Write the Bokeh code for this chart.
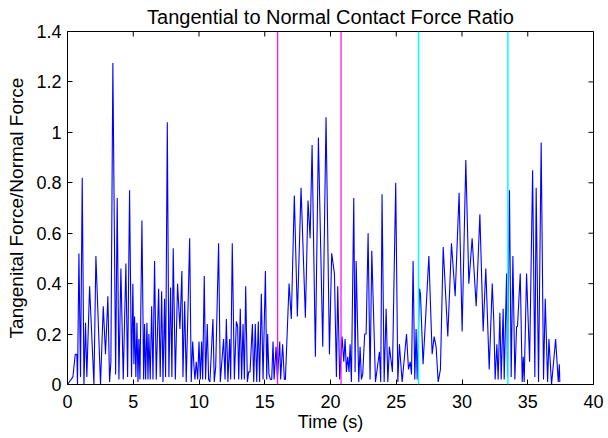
import math
from bokeh.plotting import figure
from bokeh.models import Range1d, Span, FixedTicker
from bokeh.embed import file_html
from bokeh.resources import INLINE

# ---- data ----
time_s = [
    0.00, 0.41, 0.59, 0.71, 0.76, 0.87, 0.99, 1.12, 1.25, 1.37, 1.47, 1.68, 2.01, 2.16, 2.51, 2.72,
    2.89, 3.07, 3.20, 3.30, 3.45, 3.66, 3.78, 3.91, 4.06, 4.24, 4.44, 4.57, 4.72, 4.87, 4.97, 5.05,
    5.10, 5.20, 5.28, 5.36, 5.43, 5.51, 5.66, 5.79, 5.86, 5.94, 6.04, 6.12, 6.19, 6.29, 6.40, 6.50,
    6.62, 6.75, 6.93, 7.05, 7.16, 7.26, 7.38, 7.46, 7.59, 7.71, 7.84, 7.94, 8.04, 8.20, 8.37, 8.55,
    8.70, 8.78, 8.91, 9.03, 9.29, 9.41, 9.52, 9.62, 9.69, 9.79, 9.90, 10.00, 10.10, 10.20, 10.28,
    10.40, 10.50, 10.63, 10.73, 10.83, 11.06, 11.16, 11.27, 11.49, 11.62, 11.87, 11.98, 12.08, 12.20,
    12.33, 12.41, 12.53, 12.69, 12.84, 12.94, 13.02, 13.14, 13.24, 13.35, 13.45,
    13.55, 13.68, 13.78, 13.88, 14.06, 14.16, 14.28, 14.39, 14.51, 14.61, 14.74, 14.87, 15.05, 15.15,
    15.22, 15.32, 15.43, 15.53, 15.63, 15.71, 15.86, 15.96, 16.14, 16.21, 16.36, 16.49, 16.57, 16.85,
    17.02, 17.25, 17.48, 17.76, 18.09, 18.29, 18.45, 18.60, 18.85, 19.08, 19.41, 19.66, 19.92, 20.09,
    20.30, 20.45, 20.55, 20.70, 20.88, 21.01, 21.11, 21.21, 21.31, 21.41, 21.49, 21.59, 21.77, 21.87,
    21.95, 22.15, 22.25, 22.35, 22.45, 22.60, 22.71, 22.86, 23.01, 23.14, 23.42, 23.72, 23.82, 23.92,
    24.08, 24.23, 24.36, 24.48, 24.71, 24.96, 25.12, 25.24, 25.45, 25.78, 25.93, 26.06, 26.16, 26.28,
    26.41, 26.51, 26.59, 26.77, 26.84, 27.04, 27.25, 27.48, 27.73, 27.88, 28.03, 28.19, 28.36, 28.57,
    28.92, 29.20, 29.48, 29.78, 30.01, 30.29, 30.52, 30.77, 31.08, 31.36, 31.61, 31.81, 32.07, 32.30,
    32.42, 32.52, 32.65, 32.75, 32.88, 32.98, 33.13, 33.21, 33.39, 33.46, 33.61, 33.74, 33.87, 34.02,
    34.15, 34.22, 34.43, 34.58, 34.66, 34.73, 34.91, 35.14, 35.37, 35.54, 35.64, 35.82, 36.02, 36.20,
    36.33, 36.51, 36.61, 36.81, 37.12, 37.32, 37.40, 37.44,
]
force_ratio = [
    0.00, 0.03, 0.12, 0.12, 0.00, 0.52, 0.03, 0.82, 0.00, 0.245, 0.03, 0.39, 0.00, 0.51, 0.00, 0.31,
    0.12, 0.35, 0.01, 0.09, 1.275, 0.04, 0.74, 0.02, 0.46, 0.02, 0.48, 0.03, 0.77, 0.03, 0.40, 0.08,
    0.27, 0.03, 0.245, 0.01, 0.18, 0.02, 0.65, 0.02, 0.24, 0.02, 0.245, 0.02, 0.20, 0.02, 0.31, 0.02,
    0.49, 0.02, 0.38, 0.03, 0.37, 0.01, 0.34, 0.03, 1.04, 0.03, 0.385, 0.03, 0.54, 0.02, 0.40, 0.22,
    0.45, 0.03, 0.33, 0.01, 0.58, 0.01, 0.17, 0.07, 0.02, 0.09, 0.02, 0.17, 0.02, 0.17, 0.02,
    0.43, 0.02, 0.24, 0.02, 0.01, 0.26, 0.01, 0.07, 0.56, 0.01, 0.18, 0.02, 0.26, 0.01,
    0.18, 0.02, 0.56, 0.02, 0.25, 0.23, 0.02, 0.30, 0.02, 0.24, 0.02,
    0.39, 0.01, 0.05, 0.05, 0.24, 0.01, 0.24, 0.01, 0.25, 0.01, 0.36, 0.02, 0.45, 0.02,
    0.20, 0.04, 0.02, 0.02, 0.17, 0.02, 0.15, 0.02, 0.17, 0.02, 0.16, 0.02, 0.02, 0.40,
    0.26, 0.75, 0.27, 0.78, 0.265, 0.73, 0.58, 0.95, 0.11, 0.98, 0.15, 1.06, 0.12, 0.52,
    0.44, 0.03, 0.39, 0.02, 0.19, 0.09, 0.18, 0.05, 0.11, 0.05, 0.16, 0.01, 0.74, 0.05,
    0.49, 0.01, 0.15, 0.02, 0.04, 0.20, 0.20, 0.60, 0.02, 0.53, 0.01, 0.13, 0.01, 0.755,
    0.01, 0.30, 0.01, 0.15, 0.05, 0.80, 0.01, 0.16, 0.01, 0.20, 0.06, 0.09, 0.04, 0.49,
    0.02, 0.22, 0.02, 0.38, 0.36, 0.08, 0.28, 0.51, 0.12, 0.19, 0.15, 0.01, 0.06, 0.545,
    0.19, 0.56, 0.35, 0.76, 0.21, 0.89, 0.40, 0.58, 0.31, 0.675, 0.21, 0.46, 0.06, 0.40,
    0.25, 0.02, 0.16, 0.02, 0.285, 0.02, 0.30, 0.02, 0.44, 0.03, 0.77, 0.03, 0.51, 0.02,
    0.23, 0.23, 0.44, 0.01, 0.11, 0.01, 0.44, 0.09, 0.85, 0.03, 0.78, 0.01, 0.96, 0.02,
    0.34, 0.01, 0.18, 0.00, 0.18, 0.01, 0.08, 0.01,
]
magenta_events = [15.98, 20.80]
cyan_events = [26.69, 33.49]
x_ticks = [0, 5, 10, 15, 20, 25, 30, 35, 40]
y_ticks = [0, 0.2, 0.4, 0.6, 0.8, 1.0, 1.2, 1.4]
y_tick_labels = {0: "0", 0.2: "0.2", 0.4: "0.4", 0.6: "0.6", 0.8: "0.8", 1.0: "1", 1.2: "1.2", 1.4: "1.4"}
x_min, x_max = 0, 40
y_min, y_max = 0, 1.4

FONT = "Liberation Sans"

p = figure(width=608, height=438, output_backend="svg", toolbar_location=None,
           x_range=Range1d(x_min, x_max), y_range=Range1d(y_min, y_max),
           title="Tangential to Normal Contact Force Ratio",
           min_border_left=67, min_border_right=15, min_border_top=28, min_border_bottom=54)
p.background_fill_color = "white"
p.border_fill_color = "white"
p.outline_line_color = "black"
p.outline_line_width = 1
p.grid.visible = False

p.title.align = "center"
p.title.text_font = FONT
p.title.text_font_size = "20px"
p.title.text_font_style = "normal"
p.title.text_color = "black"
p.title.standoff = 7

p.line(time_s, force_ratio, line_color="#0000ff", line_width=1.1)

for t in magenta_events:
    p.add_layout(Span(location=t, dimension="height", line_color="#ff00ff", line_width=1.2))
for t in cyan_events:
    p.add_layout(Span(location=t, dimension="height", line_color="#00ffff", line_width=1.5))

# mirrored inward ticks on the top and right edges of the box
p.ray(x=x_ticks, y=[y_max] * len(x_ticks), length=5, length_units="screen",
      angle=-math.pi / 2, line_color="black", line_width=1)
p.ray(x=[x_max] * len(y_ticks), y=y_ticks, length=5, length_units="screen",
      angle=math.pi, line_color="black", line_width=1)

def style_axis(ax, ticks, label_size):
    ax.ticker = FixedTicker(ticks=ticks)
    ax.major_tick_in = 5
    ax.major_tick_out = 0
    ax.minor_tick_in = 0
    ax.minor_tick_out = 0
    ax.major_tick_line_color = "black"
    ax.axis_line_color = "black"
    ax.major_label_text_font = FONT
    ax.major_label_text_font_size = "18px"
    ax.major_label_text_color = "black"
    ax.axis_label_text_font = FONT
    ax.axis_label_text_font_size = label_size
    ax.axis_label_text_font_style = "normal"
    ax.axis_label_text_color = "black"

xa = p.xaxis[0]
style_axis(xa, x_ticks, "18px")
xa.axis_label = "Time (s)"
xa.major_label_standoff = 10
xa.axis_label_standoff = 1

ya = p.yaxis[0]
style_axis(ya, y_ticks, "19px")
ya.major_label_overrides = y_tick_labels
ya.axis_label = "Tangenital Force/Normal Force"
ya.major_label_standoff = 6
ya.axis_label_standoff = 6

open("out.html", "w").write(file_html(p, INLINE))
